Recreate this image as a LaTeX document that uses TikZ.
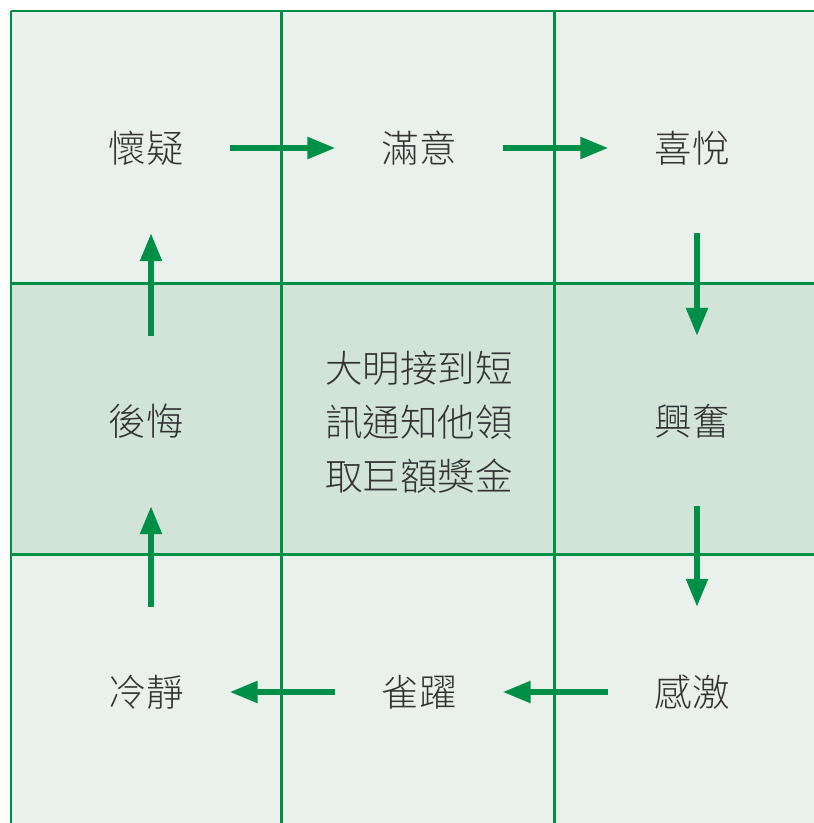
\documentclass[tikz,border=0pt]{standalone}
\usepackage{fontspec}
\newfontfamily\cjk{Noto Sans CJK TC Light}
\usetikzlibrary{arrows.meta}
\definecolor{gline}{HTML}{008F47}
\definecolor{cellA}{HTML}{EAF1EC}
\definecolor{cellB}{HTML}{D1E4D7}
\definecolor{txt}{HTML}{333333}
\tikzset{
  lbl/.style={font=\cjk\fontsize{37.5}{54}\selectfont, text=txt, inner sep=0pt, minimum width=75pt, minimum height=36pt},
  grid/.style={draw=gline, line width=2.8pt},
  arr/.style={draw=gline, line width=5.5pt, -{Triangle[length=28pt,width=21pt]}},
  harr/.style={arr, shorten <=46pt, shorten >=46pt},
  varr/.style={arr, shorten <=67pt, shorten >=67pt}
}
\begin{document}
\begin{tikzpicture}[x=1pt,y=-1pt]
\useasboundingbox (0,0) rectangle (814,823);
\fill[white] (0,0) rectangle (814,823);
\fill[cellA] (11,11) rectangle (814,823);
\fill[cellB] (11,283.5) rectangle (814,554.5);
\draw[grid] (11,11) -- (814,11);
\draw[grid] (11,283.5) -- (814,283.5);
\draw[grid] (11,554.5) -- (814,554.5);
\draw[grid] (11,11) -- (11,823);
\draw[grid] (281.5,11) -- (281.5,823);
\draw[grid] (554.5,11) -- (554.5,823);

\node[lbl] (a) at (146,148) {懷疑};
\node[lbl] (b) at (419,148) {滿意};
\node[lbl] (c) at (692,148) {喜悅};
\node[lbl] (d) at (692,421) {興奮};
\node[lbl] (e) at (692,692) {感激};
\node[lbl] (f) at (419,692) {雀躍};
\node[lbl] (g) at (146,692) {冷靜};
\node[lbl] (h) at (146,421) {後悔};
\node[font=\cjk\fontsize{37.5}{54}\selectfont, text=txt, align=center, inner sep=0pt] (m) at (419,422) {大明接到短\\訊通知他領\\取巨額獎金};

\draw[harr] (a) -- (b);
\draw[harr] (b) -- (c);
\draw[varr] ([xshift=5pt]c.south) -- ([xshift=5pt]d.north);
\draw[varr] ([xshift=5pt]d.south) -- ([xshift=5pt]e.north);
\draw[harr] (e) -- (f);
\draw[harr] (f) -- (g);
\draw[varr] ([xshift=5pt]g.north) -- ([xshift=5pt]h.south);
\draw[varr] ([xshift=5pt]h.north) -- ([xshift=5pt]a.south);
\end{tikzpicture}
\end{document}
